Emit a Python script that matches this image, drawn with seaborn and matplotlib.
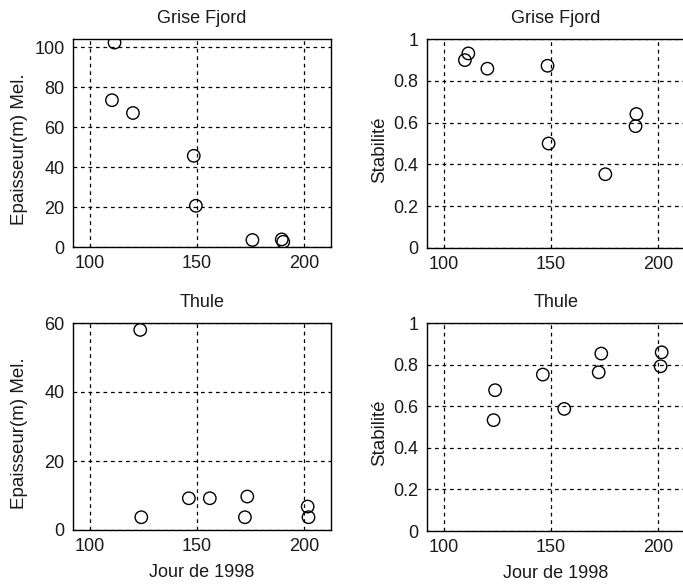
import seaborn as sns
import matplotlib.pyplot as plt
import pandas as pd

# Grise Fjord
gf_jour_ep = [111.4, 110.2, 120.0, 148.4, 149.4, 175.8, 189.5, 190.2]
gf_epaisseur = [102.2, 73.4, 67.0, 45.6, 20.6, 3.5, 3.8, 2.6]
gf_jour_st = [109.7, 111.3, 120.2, 148.3, 148.8, 175.3, 189.8, 189.4]
gf_stabilite = [0.899, 0.931, 0.858, 0.872, 0.50, 0.353, 0.641, 0.583]

# Thule
th_jour = [123.4, 123.9, 146.1, 155.9, 172.3, 173.4, 201.6, 202.0]
th_epaisseur = [58.0, 3.7, 9.2, 9.2, 3.7, 9.7, 6.8, 3.7]
th_jour_st = [123.8, 123.1, 146.1, 156.1, 172.2, 173.4, 201.6, 201.1]
th_stabilite = [0.677, 0.533, 0.752, 0.587, 0.763, 0.853, 0.859, 0.792]

sns.set_style("white")
plt.rcParams["font.family"] = ["Liberation Sans", "DejaVu Sans"]
plt.rcParams["font.size"] = 13
plt.rcParams["text.color"] = "#1a1a1a"
plt.rcParams["axes.labelcolor"] = "#1a1a1a"
plt.rcParams["xtick.color"] = "#1a1a1a"
plt.rcParams["ytick.color"] = "#1a1a1a"

W, H = 683, 587
fig = plt.figure(figsize=(W / 100, H / 100), dpi=100)


def make_ax(left, right, top, bottom):
    return fig.add_axes([left / W, 1 - bottom / H, (right - left) / W, (bottom - top) / H])


panels = [
    (make_ax(73, 331, 39, 247), gf_jour_ep, gf_epaisseur, "Grise Fjord", "Epaisseur(m) Mel.", (0, 104), [0, 20, 40, 60, 80, 100], False, -0.175),
    (make_ax(427, 685, 39, 248), gf_jour_st, gf_stabilite, "Grise Fjord", "Stabilité", (0, 1), [0, 0.2, 0.4, 0.6, 0.8, 1], False, -0.15),
    (make_ax(73, 331, 323, 530), th_jour, th_epaisseur, "Thule", "Epaisseur(m) Mel.", (0, 60), [0, 20, 40, 60], True, -0.175),
    (make_ax(427, 685, 323, 531), th_jour_st, th_stabilite, "Thule", "Stabilité", (0, 1), [0, 0.2, 0.4, 0.6, 0.8, 1], True, -0.15),
]

for ax, x, y, titre, ylab, ylim, yticks, bas, ypos in panels:
    df = pd.DataFrame({"jour": x, "val": y})
    sns.scatterplot(data=df, x="jour", y="val", ax=ax, marker="o", s=80,
                    facecolor="none", edgecolor="black", linewidth=1, zorder=3)
    ax.set_xlim(92, 212.5)
    ax.set_ylim(*ylim)
    ax.set_xticks([100, 150, 200])
    ax.set_yticks(yticks)
    ax.set_yticklabels(["%g" % t for t in yticks])
    ax.grid(True, color="black", linestyle=(0, (3, 3)), linewidth=0.9)
    ax.tick_params(direction="in", length=0, labelsize=13, pad=6)
    for sp in ax.spines.values():
        sp.set_color("black")
        sp.set_linewidth(1)
    ax.set_title(titre, fontsize=13, pad=11.5)
    ax.set_ylabel(ylab, fontsize=13.5)
    ax.yaxis.set_label_coords(ypos, 0.47)
    if bas:
        ax.set_xlabel("Jour de 1998", fontsize=13)
        ax.xaxis.set_label_coords(0.5, -0.165)
    else:
        ax.set_xlabel("")

fig.savefig("out.png", dpi=100)
